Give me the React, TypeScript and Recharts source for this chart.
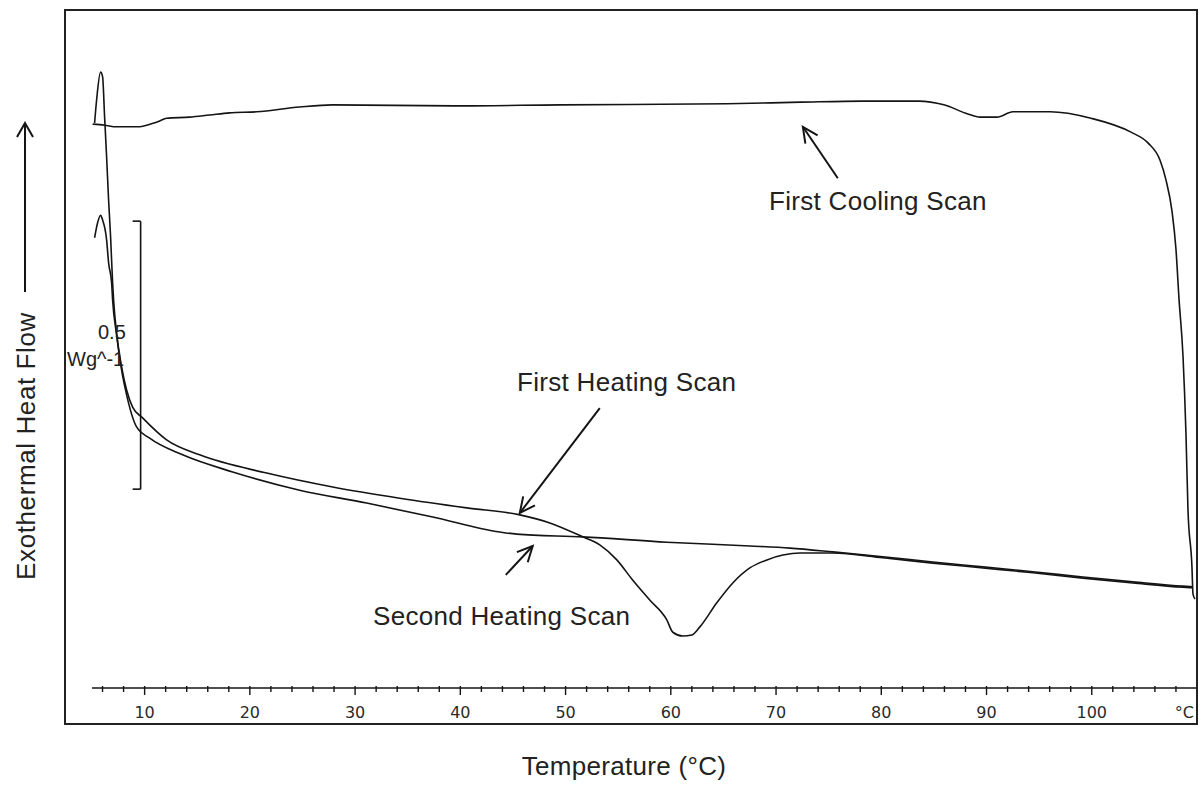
import { LineChart, Line, XAxis, YAxis, ReferenceLine } from 'recharts';

// temperature (°C) / heat flow (W/g, arbitrary zero)
const coolingT = [5.06, 6.2, 7.34, 9.52, 10.19, 11.43, 12.09, 14.28, 16.18, 18.08, 20.65, 24.73, 27.87, 39.47, 49.45, 65.32, 72.36, 78.16, 83.57, 85.95, 88.23, 89.37, 90.99, 92.51, 96.03, 99.92, 103.73, 105.34, 106.48, 107.05, 107.62, 108.0, 108.29, 108.67, 108.95, 109.14, 109.52, 109.62, 109.81];
const coolingV = [1.052, 1.05, 1.047, 1.047, 1.05, 1.058, 1.063, 1.065, 1.069, 1.073, 1.075, 1.084, 1.088, 1.086, 1.088, 1.09, 1.093, 1.095, 1.095, 1.088, 1.071, 1.065, 1.065, 1.075, 1.075, 1.063, 1.037, 1.017, 0.985, 0.948, 0.89, 0.819, 0.726, 0.619, 0.476, 0.334, 0.226, 0.175, 0.166];

const heat1T = [5.247, 5.437, 5.817, 6.008, 6.198, 6.388, 6.578, 6.768, 6.958, 7.053, 7.338, 7.814, 8.289, 8.859, 9.81, 12.09, 15.23, 21.6, 27.87, 34.24, 40.61, 45.65, 48.5, 51.63, 53.25, 54.87, 56.39, 58.0, 59.62, 60.19, 61.14, 62.0, 62.76, 64.37, 65.89, 67.51, 69.13, 70.65, 72.26, 75.4, 80.15, 84.9, 89.66, 94.41, 99.16, 103.92, 108.67, 109.62];
const heat1V = [1.054, 1.097, 1.149, 1.14, 1.065, 0.991, 0.91, 0.841, 0.756, 0.724, 0.662, 0.599, 0.556, 0.524, 0.504, 0.463, 0.435, 0.401, 0.375, 0.354, 0.336, 0.323, 0.308, 0.282, 0.267, 0.239, 0.201, 0.164, 0.127, 0.104, 0.097, 0.099, 0.114, 0.159, 0.196, 0.224, 0.239, 0.248, 0.252, 0.252, 0.243, 0.233, 0.224, 0.215, 0.205, 0.196, 0.188, 0.187];

const heat2T = [5.247, 5.532, 5.817, 6.008, 6.388, 6.578, 6.863, 6.958, 7.338, 7.814, 8.289, 9.24, 10.48, 13.61, 18.37, 24.73, 31.1, 37.38, 43.75, 45.36, 51.63, 59.62, 67.51, 71.31, 75.4, 80.15, 84.9, 89.66, 94.41, 99.16, 103.92, 108.67, 109.62];
const heat2V = [0.84, 0.868, 0.882, 0.873, 0.836, 0.793, 0.756, 0.724, 0.659, 0.593, 0.547, 0.487, 0.466, 0.435, 0.403, 0.369, 0.345, 0.319, 0.291, 0.287, 0.282, 0.272, 0.265, 0.261, 0.254, 0.245, 0.235, 0.226, 0.217, 0.207, 0.198, 0.19, 0.189];

const majorTicks = [10, 20, 30, 40, 50, 60, 70, 80, 90, 100];
const minorTicks = [6, 8, 12, 14, 16, 18, 22, 24, 26, 28, 32, 34, 36, 38, 42, 44, 46, 48, 52, 54, 56, 58, 62, 64, 66, 68, 72, 74, 76, 78, 82, 84, 86, 88, 92, 94, 96, 98, 102, 104, 106, 108];
const endTick = 110;

// 0.5 W/g scale bar
const scaleT = 9.62;
const scaleTickT = 8.86;
const scaleBottom = 0.371;
const scaleSize = 0.5;

// annotation arrows, [tail, tip] in (°C, W/g)
const coolArrow = [{ x: 75.87, y: 0.951 }, { x: 72.55, y: 1.047 }];
const heat1Arrow = [{ x: 53.25, y: 0.522 }, { x: 45.65, y: 0.3265 }];
const heat2Arrow = [{ x: 44.32, y: 0.211 }, { x: 46.88, y: 0.265 }];

const toRows = (t: number[], v: number[]) => t.map((x, i) => ({ t: x, v: v[i] }));
const cooling = toRows(coolingT, coolingV);
const heat1 = toRows(heat1T, heat1V);
const heat2 = toRows(heat2T, heat2V);
const allTicks = [...minorTicks, ...majorTicks, endTick].sort((a, b) => a - b);

const INK = '#141414';
const SANS = '"Liberation Sans", Arial, sans-serif';

const TempTick = (props: any) => {
    const { x, y, payload } = props;
    const v = payload.value;
    const major = majorTicks.includes(v);
    const isEnd = v === endTick;
    return (
        <g>
            {!isEnd && <line x1={x} x2={x} y1={y - 2} y2={y + (major ? 7 : 4)} stroke={INK} strokeWidth={1.4} />}
            {(major || isEnd) && (
                <text
                    x={isEnd ? x - 3 : x}
                    y={y + 30}
                    textAnchor={isEnd ? 'end' : 'middle'}
                    fontFamily='"DejaVu Sans", Verdana, sans-serif'
                    fontSize={16}
                    fill="#2a2a2a"
                >
                    {isEnd ? '°C' : v}
                </text>
            )}
        </g>
    );
};

const ArrowShape = (p: any) => {
    const { x1, y1, x2, y2 } = p;
    const a = Math.atan2(y2 - y1, x2 - x1);
    const L = 17;
    const w = 0.45;
    const ax = x2 - L * Math.cos(a - w);
    const ay = y2 - L * Math.sin(a - w);
    const bx = x2 - L * Math.cos(a + w);
    const by = y2 - L * Math.sin(a + w);
    return (
        <g>
            <line x1={x1} y1={y1} x2={x2} y2={y2} stroke={INK} strokeWidth={2} />
            <polyline points={`${ax},${ay} ${x2},${y2} ${bx},${by}`} fill="none" stroke={INK} strokeWidth={2} />
        </g>
    );
};

export default function App() {
    const textStyle = { fontFamily: SANS, fontSize: 26, letterSpacing: 0.3, fill: '#222' };
    const smallStyle = { fontFamily: SANS, fontSize: 20, fill: '#222' };
    return (
        <div style={{ position: 'absolute', left: 0, top: 0, width: 1203, height: 787, background: '#fff' }}>
            <LineChart width={1203} height={787} margin={{ top: 18, right: 6, bottom: 63, left: 92 }}>
                <XAxis
                    type="number"
                    dataKey="t"
                    domain={[5, 110]}
                    ticks={allTicks}
                    interval={0}
                    allowDataOverflow
                    height={36}
                    tickSize={0}
                    tickMargin={0}
                    tickLine={false}
                    axisLine={{ stroke: INK, strokeWidth: 1.4 }}
                    tick={<TempTick />}
                />
                <YAxis type="number" dataKey="v" domain={[0, 1.25]} hide allowDataOverflow />

                <ReferenceLine segment={[{ x: scaleT, y: scaleBottom }, { x: scaleT, y: scaleBottom + scaleSize }]} stroke={INK} strokeWidth={1.6} />
                <ReferenceLine segment={[{ x: scaleTickT, y: scaleBottom }, { x: scaleT, y: scaleBottom }]} stroke={INK} strokeWidth={1.6} />
                <ReferenceLine segment={[{ x: scaleTickT, y: scaleBottom + scaleSize }, { x: scaleT, y: scaleBottom + scaleSize }]} stroke={INK} strokeWidth={1.6} />

                <ReferenceLine segment={coolArrow} shape={<ArrowShape />} />
                <ReferenceLine segment={heat1Arrow} shape={<ArrowShape />} />
                <ReferenceLine segment={heat2Arrow} shape={<ArrowShape />} />

                <Line data={cooling} dataKey="v" type="monotone" stroke={INK} strokeWidth={1.6} dot={false} activeDot={false} isAnimationActive={false} />
                <Line data={heat1} dataKey="v" type="monotone" stroke={INK} strokeWidth={1.6} dot={false} activeDot={false} isAnimationActive={false} />
                <Line data={heat2} dataKey="v" type="monotone" stroke={INK} strokeWidth={1.6} dot={false} activeDot={false} isAnimationActive={false} />
            </LineChart>

            <svg width={1203} height={787} style={{ position: 'absolute', left: 0, top: 0, pointerEvents: 'none' }}>
                <rect x={65} y={10} width={1132} height={714} fill="none" stroke="#222" strokeWidth={2} />

                <text x={98} y={339} style={smallStyle}>0.5</text>
                <text x={67} y={366} style={smallStyle}>Wg^-1</text>

                <text x={769} y={210} style={textStyle}>First Cooling Scan</text>
                <text x={517} y={391} style={textStyle}>First Heating Scan</text>
                <text x={373} y={625} style={textStyle}>Second Heating Scan</text>

                <text x={624} y={775} textAnchor="middle" style={textStyle}>Temperature (°C)</text>
                <text x={26} y={446} transform="rotate(-90 26 446)" textAnchor="middle" dominantBaseline="central" style={{ ...textStyle, letterSpacing: 0.6 }}>
                    Exothermal Heat Flow
                </text>
                <line x1={25} y1={292} x2={25} y2={123} stroke={INK} strokeWidth={2} />
                <polyline points="17,137 25,123 33,137" fill="none" stroke={INK} strokeWidth={2} />
            </svg>
        </div>
    );
}
